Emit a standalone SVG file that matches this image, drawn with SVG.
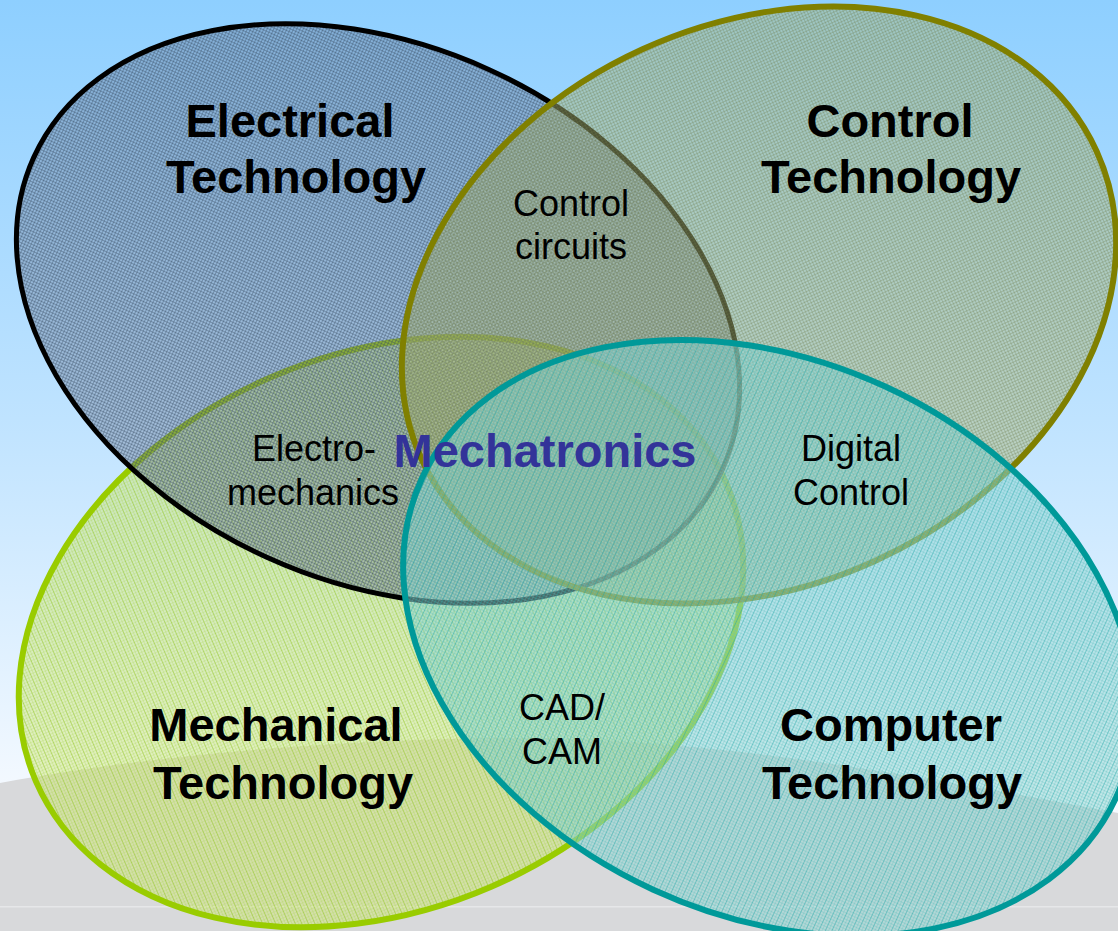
<svg xmlns="http://www.w3.org/2000/svg" width="1118" height="931" viewBox="0 0 1118 931">
  <style>
    .big { font-family: "Liberation Sans", Arial, sans-serif; font-weight: bold; font-size: 47px; fill: #000; text-anchor: middle; }
    .small { font-family: "Liberation Sans", Arial, sans-serif; font-size: 36px; fill: #000; text-anchor: middle; }
    .core { font-family: "Liberation Sans", Arial, sans-serif; font-weight: bold; font-size: 47px; fill: #333399; text-anchor: middle; }
  </style>
  <defs>
    <linearGradient id="sky" x1="0" y1="0" x2="0" y2="1">
      <stop offset="0" stop-color="#8ECFFF"/>
      <stop offset="0.45" stop-color="#BFE3FF"/>
      <stop offset="0.85" stop-color="#F4F9FF"/>
      <stop offset="1" stop-color="#FFFFFF"/>
    </linearGradient>
    <pattern id="pE" width="3" height="3" patternUnits="userSpaceOnUse">
      <rect width="3" height="3" fill="#6B7A95" fill-opacity="0.38"/>
      <rect width="3" height="1" fill="#34465E" fill-opacity="0.38"/>
      <rect width="1" height="3" fill="#34465E" fill-opacity="0.38"/>
    </pattern>
    <pattern id="pC" width="3" height="3" patternUnits="userSpaceOnUse">
      <rect width="3" height="3" fill="#ADB878" fill-opacity="0.45"/>
      <rect width="3" height="1" fill="#6E7A4A" fill-opacity="0.3"/>
      <rect width="1" height="3" fill="#6E7A4A" fill-opacity="0.3"/>
    </pattern>
    <pattern id="pM" width="6" height="3" patternUnits="userSpaceOnUse">
      <rect width="6" height="3" fill="#CEE66E" fill-opacity="0.45"/>
      <rect width="6" height="1" fill="#B5D86A" fill-opacity="0.3"/>
      <rect width="1" height="3" fill="#8EC21A" fill-opacity="0.5"/>
      <rect x="3" width="1" height="3" fill="#A9D44A" fill-opacity="0.3"/>
    </pattern>
    <pattern id="pT" width="6" height="3" patternUnits="userSpaceOnUse">
      <rect width="6" height="3" fill="#8FD6D2" fill-opacity="0.5"/>
      <rect width="6" height="1" fill="#5CC0C0" fill-opacity="0.3"/>
      <rect width="1" height="3" fill="#1FA5A5" fill-opacity="0.45"/>
      <rect x="3" width="1" height="3" fill="#5CBFBF" fill-opacity="0.3"/>
    </pattern>
  </defs>

  <g id="background">
    <rect width="1118" height="931" fill="url(#sky)"/>
    <path d="M0,783 C150,755 350,738 520,738 C700,738 900,772 1118,813 L1118,931 L0,931 Z" fill="#D8D9DB"/>
    <rect x="0" y="906" width="1118" height="1.5" fill="#E6E7E9"/>
  </g>

  <g id="mechanical">
    <ellipse cx="381" cy="632" rx="376" ry="277.5" transform="rotate(-23.4 381 632)" fill="url(#pM)" stroke="#99CC00" stroke-width="6"/>
  </g>
  <g id="electrical">
    <ellipse cx="378" cy="313.5" rx="378" ry="268" transform="rotate(24.4 378 313.5)" fill="url(#pE)" stroke="#000000" stroke-width="5"/>
  </g>
  <g id="control">
    <ellipse cx="759" cy="305" rx="371" ry="281" transform="rotate(-24.5 759 305)" fill="url(#pC)" stroke="#808000" stroke-width="6"/>
  </g>
  <g id="computer">
    <ellipse cx="769" cy="638" rx="382" ry="277" transform="rotate(24.7 769 638)" fill="url(#pT)" stroke="#009999" stroke-width="6"/>
  </g>

  <g id="connectors"></g>

  <g id="labels">
    <text class="big" x="290" y="137">Electrical</text>
    <text class="big" x="296" y="193">Technology</text>
    <text class="big" x="890" y="137">Control</text>
    <text class="big" x="891" y="193">Technology</text>
    <text class="big" x="276" y="741">Mechanical</text>
    <text class="big" x="283" y="799">Technology</text>
    <text class="big" x="891" y="741">Computer</text>
    <text class="big" x="892" y="799">Technology</text>
    <text class="small" x="571" y="216">Control</text>
    <text class="small" x="571" y="259">circuits</text>
    <text class="small" x="314" y="461">Electro-</text>
    <text class="small" x="313" y="505">mechanics</text>
    <text class="small" x="851" y="461">Digital</text>
    <text class="small" x="851" y="505">Control</text>
    <text class="small" x="562" y="720">CAD/</text>
    <text class="small" x="562" y="764">CAM</text>
    <text class="core" x="545" y="467">Mechatronics</text>
  </g>
</svg>
